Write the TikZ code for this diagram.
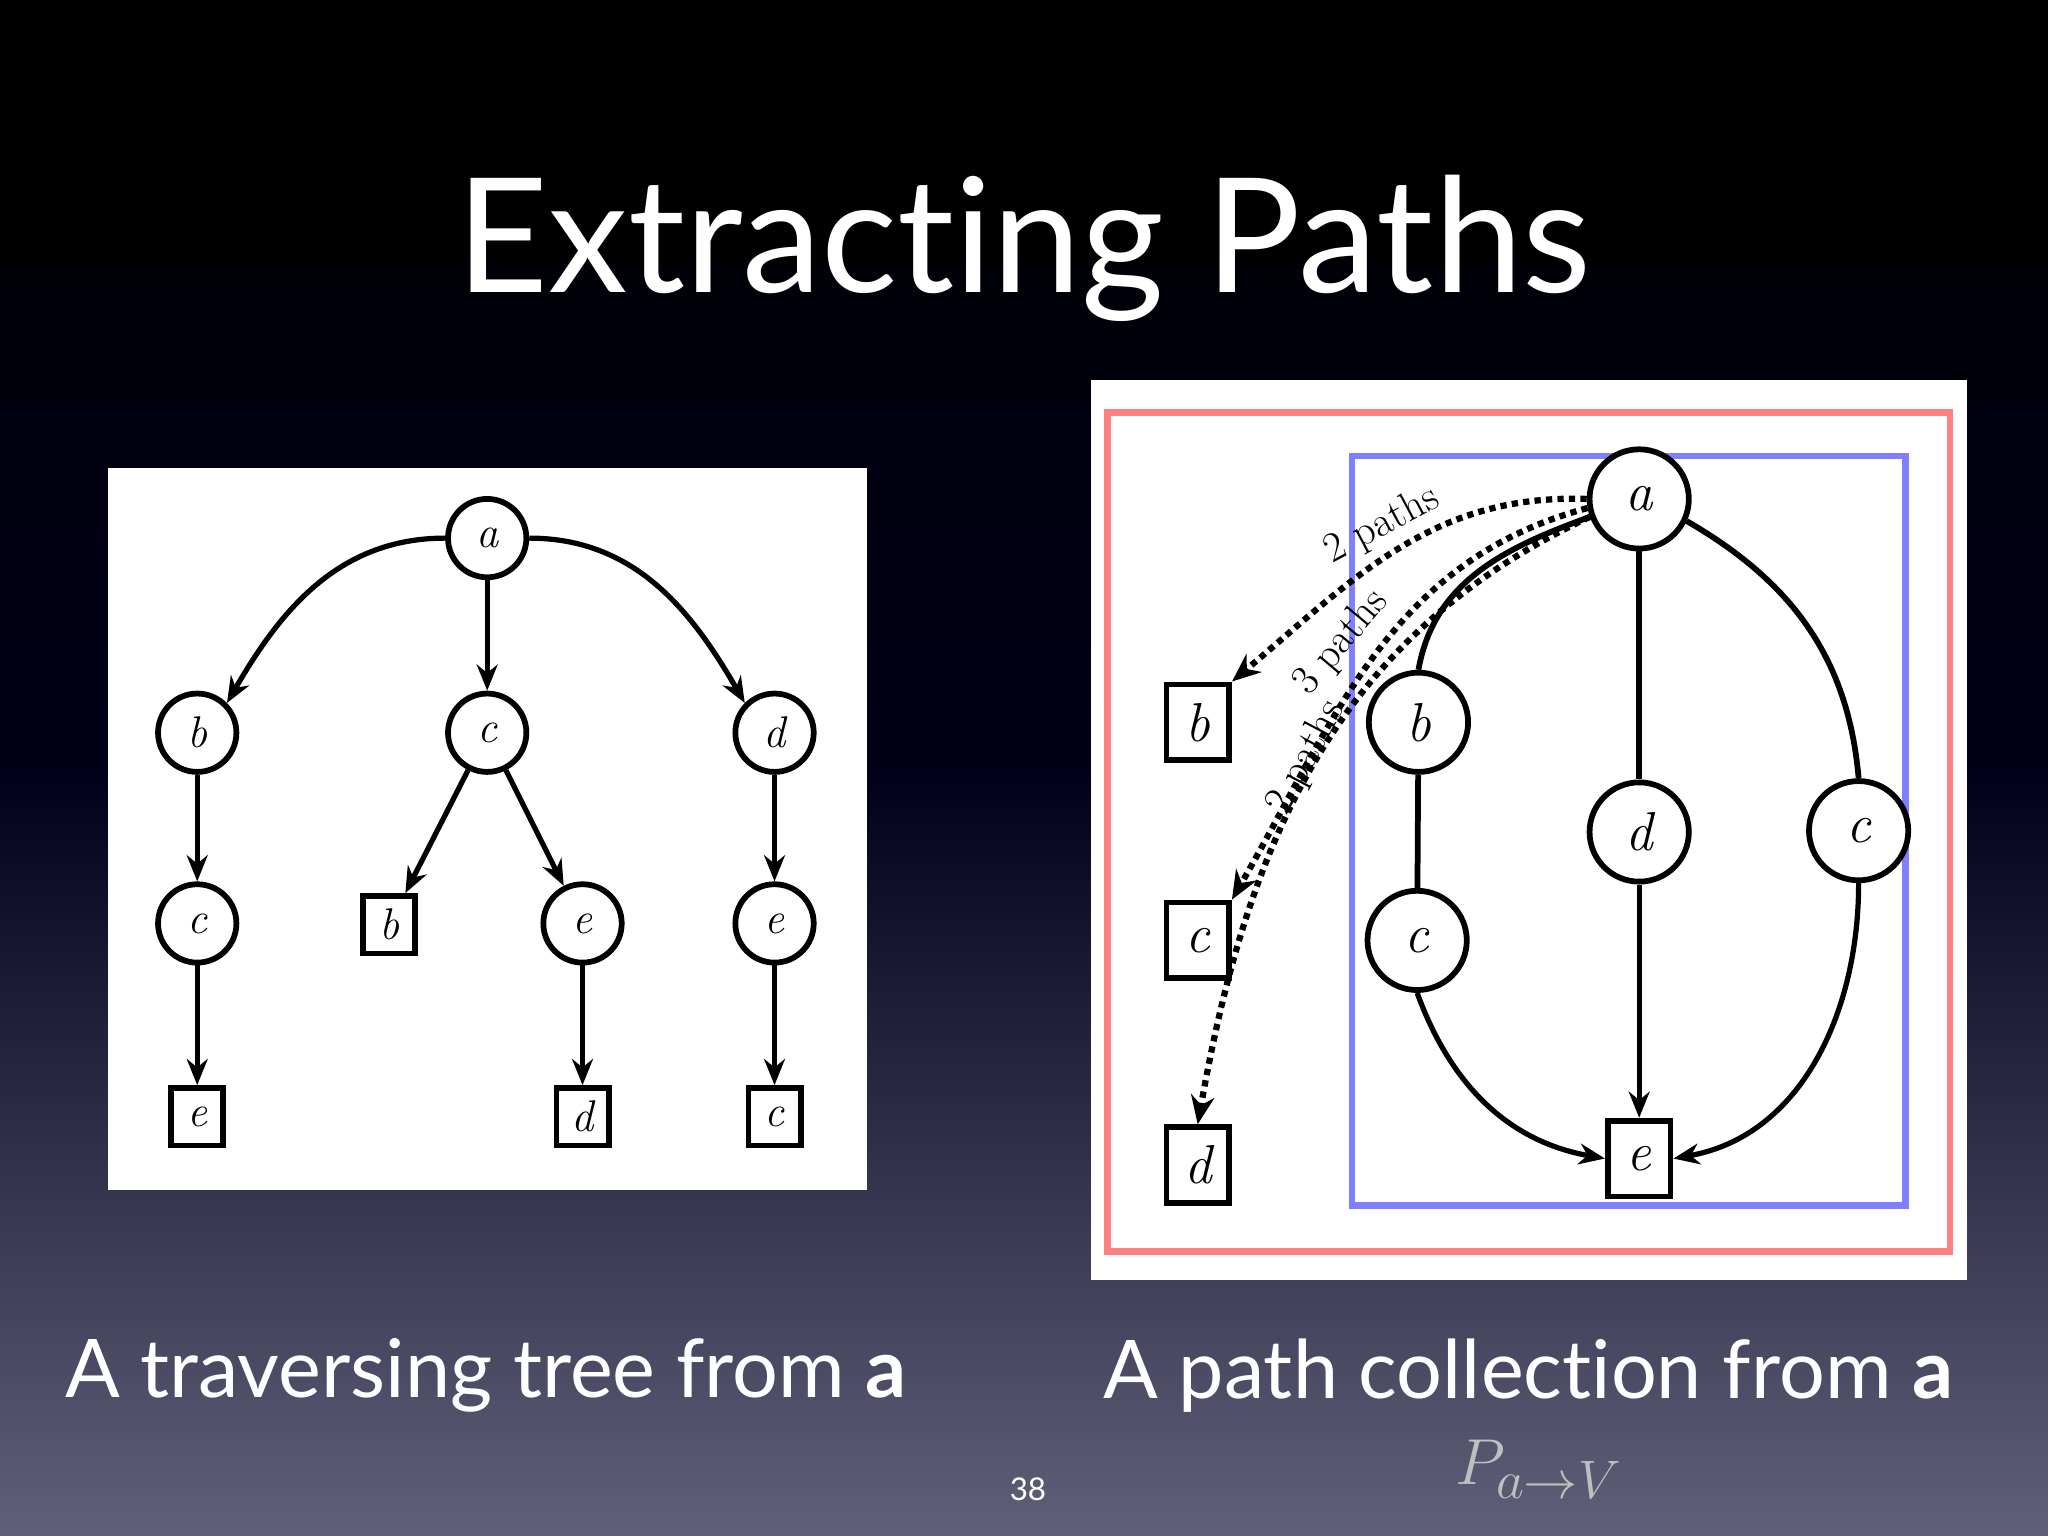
\documentclass[tikz,border=0pt]{standalone}
\usepackage{fontspec}
\setsansfont[Ligatures=NoCommon]{Lato}
\usetikzlibrary{arrows.meta}
\begin{document}
\begin{tikzpicture}[x=0.5pt,y=-0.5pt,
 cn/.style={circle,draw,line width=2.2pt,fill=white,minimum size=30pt,inner sep=0pt,font=\fontsize{17}{17}\selectfont\itshape},
 sn/.style={rectangle,draw,line width=2.2pt,fill=white,minimum width=20pt,minimum height=22pt,inner sep=0pt,font=\fontsize{17}{17}\selectfont\itshape},
 cn2/.style={cn,minimum size=38pt,font=\fontsize{21}{21}\selectfont\itshape},
 sn2/.style={sn,minimum width=24pt,minimum height=29pt,font=\fontsize{21}{21}\selectfont\itshape},
 ed/.style={line width=2pt,-{Stealth[length=10pt,width=8pt]}},
 ln/.style={line width=2.2pt},
 dt/.style={line width=2.4pt,dotted,-{Stealth[length=11pt,width=9pt]}},
 pl/.style={font=\fontsize{16}{16}\selectfont}]
\shade[top color=black,bottom color=black!60!blue!25!gray,middle color=black!90!blue] (0,0) rectangle (1568,1176);
\useasboundingbox (0,0) rectangle (1568,1176);
\shade[top color=black, bottom color=black] (0,0) rectangle (1568,200);
\node[white,font=\sffamily\fontsize{61}{61}\selectfont] (title) at (784,190) {Extracting Paths};
% left
\fill[white] (83,358) rectangle (664,911);
\node[cn] (a) at (373,412) {a};
\node[cn] (b) at (151,561) {b};
\node[cn] (c) at (373,561) {c};
\node[cn] (d) at (593,561) {d};
\node[cn] (bc) at (151,707) {c};
\node[sn] (cb) at (298,708) {b};
\node[cn] (ce) at (446,707) {e};
\node[cn] (de) at (593,707) {e};
\node[sn] (bce) at (151,855) {e};
\node[sn] (ced) at (446,855) {d};
\node[sn] (dec) at (593,855) {c};
\draw[ed] (a.west) to[out=180,in=60] (b.north east);
\draw[ed] (a) -- (c);
\draw[ed] (a.east) to[out=0,in=120] (d.north west);
\draw[ed] (b) -- (bc);
\draw[ed] (bc) -- (bce);
\draw[ed] (c) -- (cb);
\draw[ed] (c) -- (ce);
\draw[ed] (ce) -- (ced);
\draw[ed] (d) -- (de);
\draw[ed] (de) -- (dec);
% right
\fill[white] (835,291) rectangle (1506,980);
\draw[line width=2.5pt,red!50] (848,316) rectangle (1493,958);
\draw[line width=2.5pt,blue!50] (1035,349) rectangle (1459,923);
\node[cn2] (A) at (1255,382) {a};
\node[cn2] (B) at (1086,553) {b};
\node[cn2] (D) at (1255,637) {d};
\node[cn2] (C) at (1423,636) {c};
\node[cn2] (BC) at (1085,720) {c};
\node[sn2] (E) at (1255,887) {e};
\node[sn2] (Sb) at (917,553) {b};
\node[sn2] (Sc) at (917,720) {c};
\node[sn2] (Sd) at (917,892) {d};
\draw[ln] (A.200) to[out=200,in=80] (B.north);
\draw[ln] (B) -- (BC);
\draw[ed] (BC.south) to[out=-70,in=170] (E.west);
\draw[ln] (A) -- (D);
\draw[ed] (D) -- (E);
\draw[ln] (A.-25) to[out=-30,in=95] (C.north);
\draw[ed] (C.south) to[out=-90,in=10] (E.east);
\draw[dt] (A.west) to[out=178,in=40] (Sb.north east);
\draw[dt] (A.190) to[out=195,in=60] (Sc.north east);
\draw[dt] (A.200) to[out=205,in=80] (Sd.north);
\node[pl,rotate=28] (p1) at (1058,402) {2 paths};
\node[pl,rotate=50] (p2) at (1027,492) {3 paths};
\node[pl,rotate=62] (p3) at (1000,580) {2 paths};
% captions
\node[white,font=\sffamily\fontsize{31}{31}\selectfont] (l1) at (372,1053) {A traversing tree from \textbf{a}};
\node[white,font=\sffamily\fontsize{31}{31}\selectfont] (l2) at (1170,1053) {A path collection from \textbf{a}};
\node[black!25,font=\fontsize{30}{30}\selectfont] (l3) at (1178,1125) {$P_{a\to V}$};
\node[white,font=\sffamily\fontsize{12}{12}\selectfont] (n) at (787,1140) {38};
\end{tikzpicture}
\end{document}
